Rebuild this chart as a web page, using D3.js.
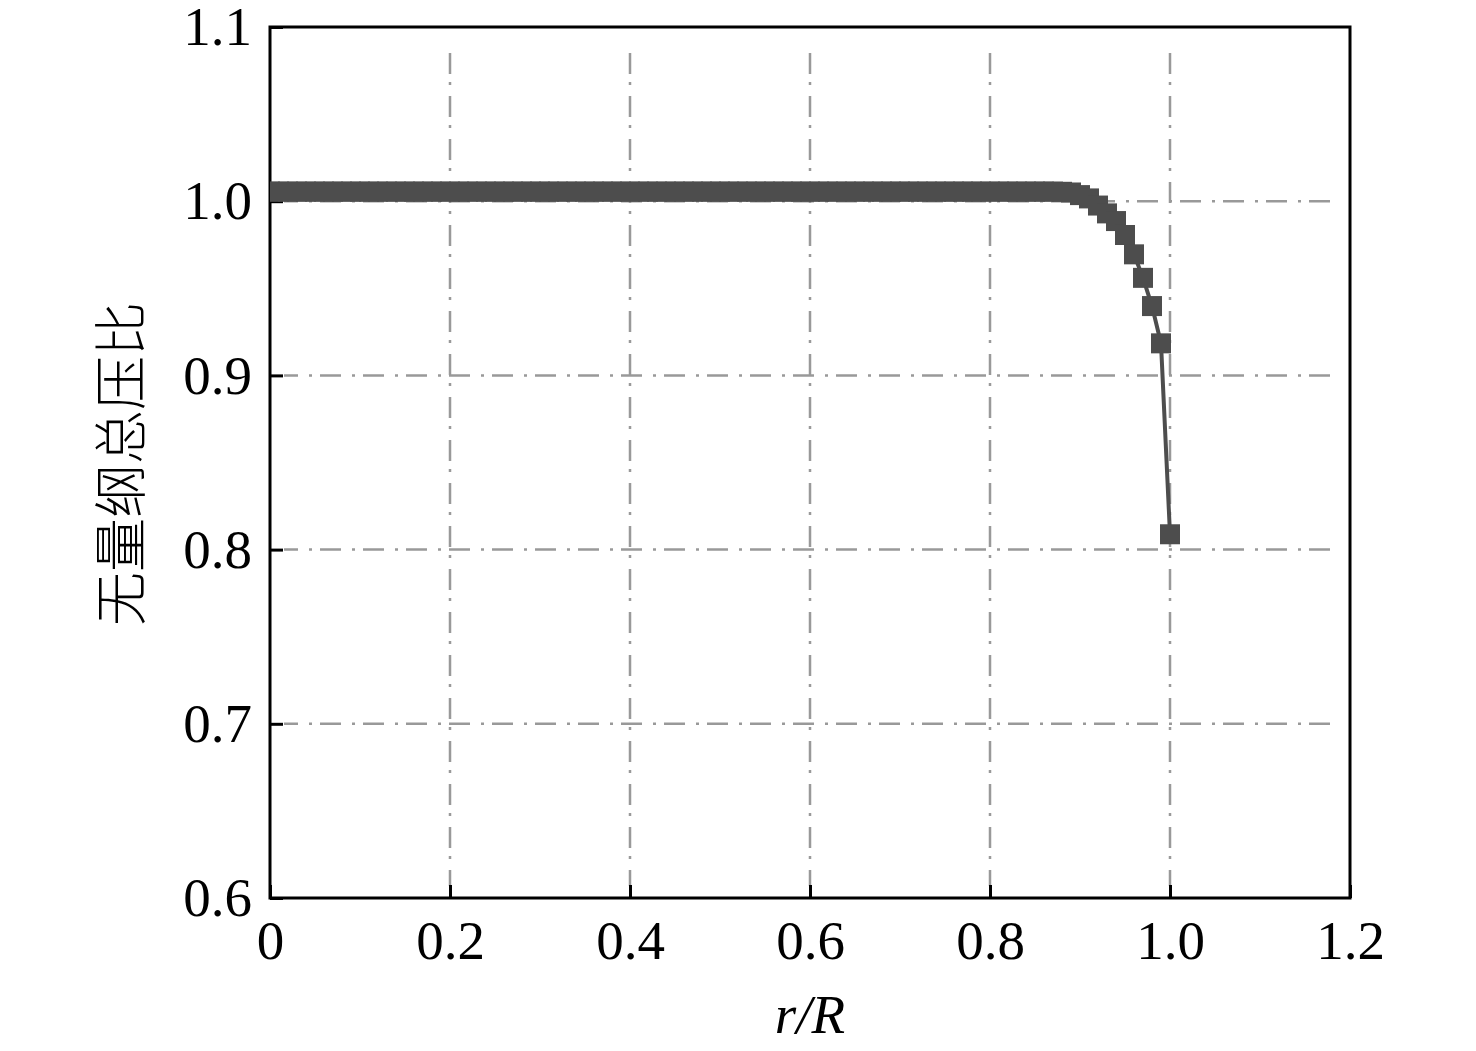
<!DOCTYPE html>
<html>
<head>
<meta charset="utf-8">
<script src="https://cdn.jsdelivr.net/npm/d3@7"></script>
<style>
  body { margin: 0; background: #fff; }
  #root { width: 1476px; height: 1051px; }
</style>
</head>
<body>
<div id="root"></div>
<script>
// r/R positions along the radius
const rR = [
  0.00, 0.01, 0.02, 0.03, 0.04, 0.05, 0.06, 0.07, 0.08, 0.09,
  0.10, 0.11, 0.12, 0.13, 0.14, 0.15, 0.16, 0.17, 0.18, 0.19,
  0.20, 0.21, 0.22, 0.23, 0.24, 0.25, 0.26, 0.27, 0.28, 0.29,
  0.30, 0.31, 0.32, 0.33, 0.34, 0.35, 0.36, 0.37, 0.38, 0.39,
  0.40, 0.41, 0.42, 0.43, 0.44, 0.45, 0.46, 0.47, 0.48, 0.49,
  0.50, 0.51, 0.52, 0.53, 0.54, 0.55, 0.56, 0.57, 0.58, 0.59,
  0.60, 0.61, 0.62, 0.63, 0.64, 0.65, 0.66, 0.67, 0.68, 0.69,
  0.70, 0.71, 0.72, 0.73, 0.74, 0.75, 0.76, 0.77, 0.78, 0.79,
  0.80, 0.81, 0.82, 0.83, 0.84, 0.85, 0.86, 0.87, 0.88, 0.89,
  0.90, 0.91, 0.92, 0.93, 0.94, 0.95, 0.96, 0.97, 0.98, 0.99,
  1.00
]

// dimensionless total pressure ratio
const pRatio = [
  1.0055, 1.0055, 1.0055, 1.0055, 1.0055, 1.0055, 1.0055, 1.0055, 1.0055, 1.0055,
  1.0055, 1.0055, 1.0055, 1.0055, 1.0055, 1.0055, 1.0055, 1.0055, 1.0055, 1.0055,
  1.0055, 1.0055, 1.0055, 1.0055, 1.0055, 1.0055, 1.0055, 1.0055, 1.0055, 1.0055,
  1.0055, 1.0055, 1.0055, 1.0055, 1.0055, 1.0055, 1.0055, 1.0055, 1.0055, 1.0055,
  1.0055, 1.0055, 1.0055, 1.0055, 1.0055, 1.0055, 1.0055, 1.0055, 1.0055, 1.0055,
  1.0055, 1.0055, 1.0055, 1.0055, 1.0055, 1.0055, 1.0055, 1.0055, 1.0055, 1.0055,
  1.0055, 1.0055, 1.0055, 1.0055, 1.0055, 1.0055, 1.0055, 1.0055, 1.0055, 1.0055,
  1.0055, 1.0055, 1.0055, 1.0055, 1.0055, 1.0055, 1.0055, 1.0055, 1.0055, 1.0055,
  1.0055, 1.0055, 1.0055, 1.0055, 1.0055, 1.0055, 1.0055, 1.0055, 1.0054, 1.0050,
  1.0035, 1.0016, 0.9975, 0.9930, 0.9886, 0.9806, 0.9695, 0.9560, 0.9398, 0.9184,
  0.8088
]

const xTicks = [0, 0.2, 0.4, 0.6, 0.8, 1.0, 1.2]
const yTicks = [0.6, 0.7, 0.8, 0.9, 1.0, 1.1]
const xGrid = [0.2, 0.4, 0.6, 0.8, 1.0]
const yGrid = [0.7, 0.8, 0.9, 1.0]

const xTitle = 'r/R'
const yTitle = '无量纲总压比'

const div = document.getElementById('root')
const svg = d3.select(div).append('svg')
  .attr('width', 1476)
  .attr('height', 1051)

const margin = { top: 27, right: 126, bottom: 153, left: 270 }
const width = 1476 - margin.left - margin.right
const height = 1051 - margin.top - margin.bottom

const x = d3.scaleLinear().domain([0, 1.2]).range([0, width])
const y = d3.scaleLinear().domain([0.6, 1.1]).range([height, 0])

const g = svg.append('g')
  .attr('transform', `translate(${margin.left},${margin.top})`)

g.append('clipPath').attr('id', 'plot')
  .append('rect').attr('width', width).attr('height', height)

// dash-dot grid
const grid = g.append('g')
  .attr('stroke', '#999')
  .attr('stroke-width', 2.5)
  .attr('stroke-dasharray', '21,8,3,11')
  .attr('fill', 'none')

grid.selectAll('.vg')
  .data(xGrid)
  .enter()
  .append('line')
  .attr('x1', d => x(d)).attr('x2', d => x(d))
  .attr('y1', 26).attr('y2', height - 12)

grid.selectAll('.hg')
  .data(yGrid)
  .enter()
  .append('line')
  .attr('y1', d => y(d)).attr('y2', d => y(d))
  .attr('x1', width - 20).attr('x2', 14)

// axes, ticks pointing inward
const serif = '"Liberation Serif", "Times New Roman", serif'

const xAxis = g.append('g')
  .attr('transform', `translate(0,${height})`)
  .call(d3.axisBottom(x)
    .tickValues(xTicks)
    .tickSize(-13)
    .tickSizeOuter(0)
    .tickPadding(22)
    .tickFormat(d => (d === 0 ? '0' : d3.format('.1f')(d))))

const yAxis = g.append('g')
  .call(d3.axisLeft(y)
    .tickValues(yTicks)
    .tickSize(-13)
    .tickSizeOuter(0)
    .tickPadding(18)
    .tickFormat(d3.format('.1f')))

;[xAxis, yAxis].forEach(a => {
  a.select('.domain').remove()
  a.selectAll('line').attr('stroke', '#000').attr('stroke-width', 3)
  a.selectAll('text')
    .attr('fill', '#000')
    .style('font-family', serif)
    .style('font-size', '55px')
})

// frame
g.append('rect')
  .attr('width', width)
  .attr('height', height)
  .attr('fill', 'none')
  .attr('stroke', '#000')
  .attr('stroke-width', 3)

// series
const pts = rR.map((d, i) => [d, pRatio[i]])
const series = g.append('g').attr('clip-path', 'url(#plot)')

series.append('path')
  .datum(pts)
  .attr('fill', 'none')
  .attr('stroke', '#4d4d4d')
  .attr('stroke-width', 4)
  .attr('d', d3.line().x(d => x(d[0])).y(d => y(d[1])))

const ms = 20
series.selectAll('rect')
  .data(pts)
  .enter()
  .append('rect')
  .attr('x', d => x(d[0]) - ms / 2)
  .attr('y', d => y(d[1]) - ms / 2)
  .attr('width', ms)
  .attr('height', ms)
  .attr('fill', '#4d4d4d')

// axis titles
svg.append('text')
  .attr('x', margin.left + x(0.6))
  .attr('y', 1033)
  .attr('text-anchor', 'middle')
  .style('font-family', serif)
  .style('font-style', 'italic')
  .style('font-size', '55px')
  .text(xTitle)

svg.append('text')
  .attr('transform', 'translate(117,464) rotate(-90)')
  .attr('text-anchor', 'middle')
  .attr('dominant-baseline', 'central')
  .style('font-family', '"Noto Sans CJK SC", sans-serif')
  .style('font-weight', 300)
  .style('font-size', '54px')
  .text(yTitle)
</script>
</body>
</html>
